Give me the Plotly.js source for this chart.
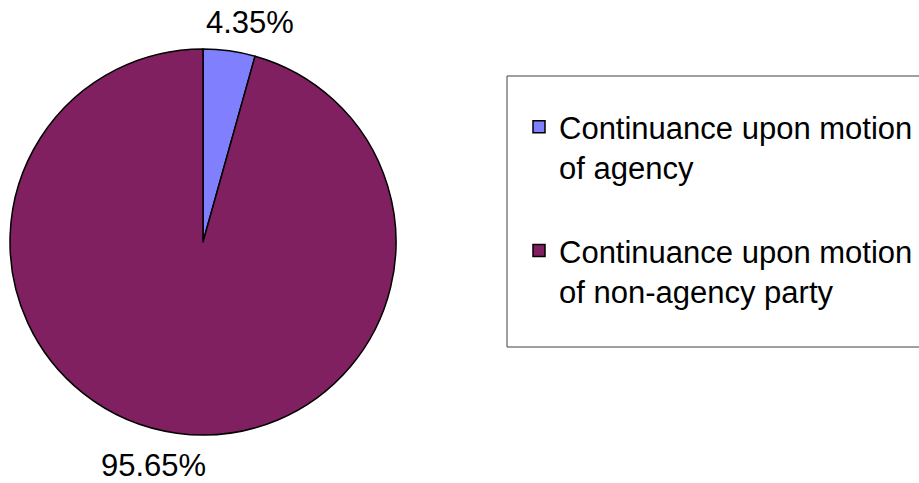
<!DOCTYPE html>
<html>
<head>
<meta charset="utf-8">
<script src="https://cdn.plot.ly/plotly-3.0.1.min.js"></script>
<style>
  html, body { margin: 0; padding: 0; background: #ffffff; }
  #graphique { width: 919px; height: 483px; }
</style>
</head>
<body>
<div id="graphique"></div>
<script>
// Données (1 sur 23 = 4.35 %)
let categories = ["Continuance upon motion<br>of agency<br> ", "Continuance upon motion<br>of non-agency party"];
let valeurs = [1, 22];
let couleurs = ["#8080FF", "#802060"];

let W = 919;
let H = 483;
let police = "Liberation Sans, Arial, sans-serif";

// Fonction qui convertit des pixels en coordonnées "paper"
function px_x(x) { return x / W; }
function px_y(y) { return 1 - y / H; }

// Les étiquettes de pourcentage, calculées à partir des valeurs
let total = valeurs.reduce((a, b) => a + b, 0);
let etiquettes = valeurs.map(v => (100 * v / total).toFixed(2) + "%");

// Positions des étiquettes (comme Excel les place, à l'extérieur du camembert)
let positions_etiquettes = [[250, 22], [153, 465]];

let donnee = [{
    type: "pie",
    labels: categories,
    values: valeurs,
    sort: false,
    direction: "clockwise",
    rotation: 0,
    marker: {colors: couleurs, line: {color: "#000000", width: 1.5}},
    textinfo: "none",
    textposition: "none",
    domain: {x: [px_x(10), px_x(396)], y: [px_y(435), px_y(49)]},
    hoverinfo: "none"
}];

let annotations = etiquettes.map((texte, i) => ({
    text: texte,
    xref: "paper", yref: "paper",
    x: px_x(positions_etiquettes[i][0]),
    y: px_y(positions_etiquettes[i][1]),
    xanchor: "center", yanchor: "middle",
    showarrow: false,
    font: {family: police, size: 31, color: "#000000"}
}));

let apparence = {
    width: W,
    height: H,
    margin: {l: 0, r: 0, t: 0, b: 0},
    paper_bgcolor: "#ffffff",
    font: {family: police, size: 31, color: "#000000"},
    showlegend: true,
    legend: {
        x: px_x(519),
        y: px_y(100),
        xanchor: "left",
        yanchor: "top",
        valign: "top",
        bgcolor: "rgba(0,0,0,0)",
        borderwidth: 0,
        font: {family: police, size: 31, color: "#000000"}
    },
    annotations: annotations,
    // cadre de la légende, qui dépasse à droite comme sur l'original
    shapes: [{
        type: "rect", xref: "paper", yref: "paper",
        x0: px_x(507), x1: px_x(930), y0: px_y(347), y1: px_y(76),
        line: {color: "#404040", width: 1}
    }]
};

Plotly.newPlot("graphique", donnee, apparence, {staticPlot: true});
</script>
</body>
</html>
